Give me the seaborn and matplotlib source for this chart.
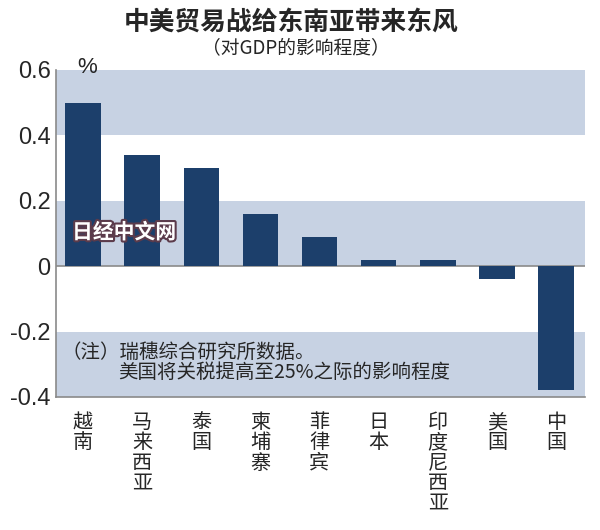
import matplotlib
matplotlib.use("Agg")
import matplotlib.pyplot as plt
import matplotlib.patheffects as pe
import seaborn as sns
import pandas as pd

# 数据
countries = ["越南", "马来西亚", "泰国", "柬埔寨", "菲律宾", "日本", "印度尼西亚", "美国", "中国"]
impact = [0.50, 0.34, 0.30, 0.16, 0.09, 0.02, 0.02, -0.04, -0.38]
y_ticks = [-0.4, -0.2, 0, 0.2, 0.4, 0.6]
y_tick_labels = ["-0.4", "-0.2", "0", "0.2", "0.4", "0.6"]
bands = [(0.4, 0.6), (0.0, 0.2), (-0.4, -0.2)]

df = pd.DataFrame({"country": countries, "impact": impact})

sns.set_theme(style="white")
plt.rcParams['font.family'] = ['Noto Sans CJK SC', 'DejaVu Sans']

fig = plt.figure(figsize=(6, 5.3), dpi=100)
ax = fig.add_axes([0.093, 0.251, 0.882, 0.617])

for lo, hi in bands:
    ax.axhspan(lo, hi, color="#c7d2e3", lw=0, zorder=0)
ax.axhline(0, color="#8a8a8a", lw=1.2, zorder=1)

sns.barplot(data=df, x="country", y="impact", color="#1c3f6b", width=0.6,
            saturation=1, linewidth=0, ax=ax, zorder=2)

ax.set_xlim(-0.46, 8.49)
ax.set_ylim(-0.4, 0.6)
ax.set_xlabel("")
ax.set_ylabel("")

ax.set_yticks(y_ticks)
ax.set_yticklabels(y_tick_labels, family=["Liberation Sans", "DejaVu Sans"], fontsize=17)
ax.set_xticks(range(len(countries)))
ax.set_xticklabels(["\n".join(c) for c in countries], fontsize=14.5, va="top",
                   linespacing=0.95)
ax.tick_params(axis="y", direction="in", length=10, color="#8a8a8a", width=1.2, pad=-2)
ax.tick_params(axis="x", direction="in", length=7, color="#8a8a8a", width=1.2, pad=11)
for lbl in ax.get_yticklabels():
    lbl.set_horizontalalignment("right")
    lbl.set_x(-0.015)

for side in ["top", "right"]:
    ax.spines[side].set_visible(False)
for side in ["left", "bottom"]:
    ax.spines[side].set_color("#8a8a8a")
    ax.spines[side].set_linewidth(1.2)

fig.text(0.485, 0.958, "中美贸易战给东南亚带来东风", ha="center", va="center",
         fontsize=18.5, fontweight="bold")
fig.text(0.493, 0.91, "（对GDP的影响程度）", ha="center", va="center", fontsize=13.5)
fig.text(0.128, 0.872, "%", ha="left", va="center", fontsize=16,
         family=["Liberation Sans", "DejaVu Sans"])

# 水印
fig.text(0.12, 0.562, "日经中文网", ha="left", va="center", fontsize=15,
         fontweight="bold", style="italic", color="white",
         path_effects=[pe.Stroke(linewidth=3, foreground="#5b3b4b"), pe.Normal()])

# 注释
fig.text(0.103, 0.336, "（注）瑞穗综合研究所数据。", ha="left", va="center", fontsize=14)
fig.text(0.197, 0.297, "美国将关税提高至25%之际的影响程度", ha="left", va="center", fontsize=14)

fig.savefig("out.png", dpi=100)
